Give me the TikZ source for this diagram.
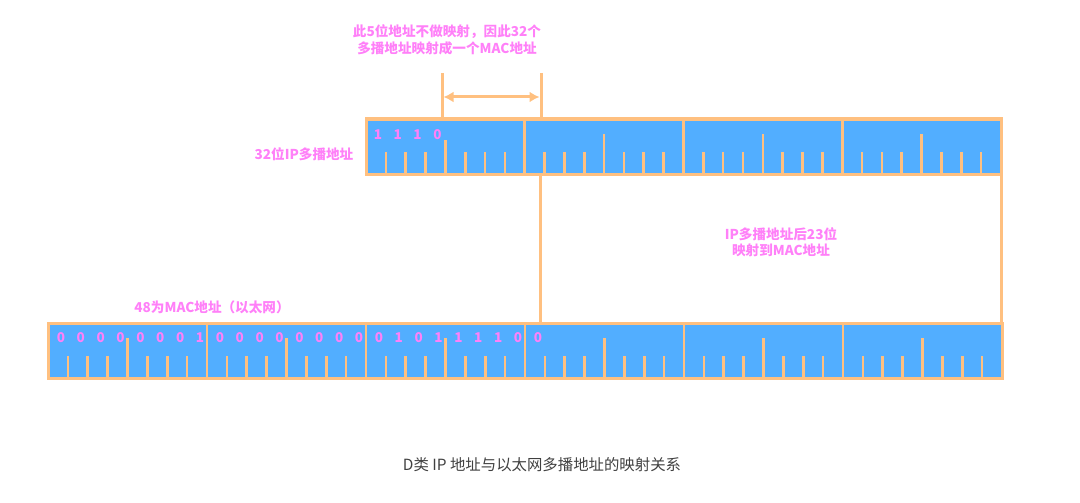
\documentclass[tikz,border=0pt]{standalone}
\usepackage{fontspec}
\setmainfont{Noto Sans CJK SC}
\usetikzlibrary{arrows.meta}
\definecolor{pk}{HTML}{FF80F8}
\definecolor{bl}{HTML}{52AEFF}
\definecolor{og}{HTML}{FFC080}
\definecolor{capc}{HTML}{404040}
\begin{document}
\begin{tikzpicture}[x=1pt,y=-1pt,
  regbox/.style={draw=og,fill=bl,line width=3pt,inner sep=0pt,outer sep=0pt},
  tickline/.style={draw=og,line width=2.6pt},
  divline/.style={draw=og,line width=2.6pt},
  conn/.style={draw=og,line width=3pt},
  lbl/.style={text=pk,font=\bfseries\fontsize{13.6}{16.5}\selectfont,align=center,inner sep=0pt},
  bit/.style={text=pk,font=\bfseries\fontsize{13.5}{13.5}\selectfont,inner sep=0pt},
  captxt/.style={text=capc,font=\fontsize{15.4}{17}\selectfont,inner sep=0pt}]
\useasboundingbox (0,0) rectangle (1080,503);

% boxes
\node[regbox,minimum width=635pt,minimum height=55pt] (ipbox) at (683.5,146.5) {};
\node[regbox,minimum width=954pt,minimum height=55pt] (macbox) at (525,350.5) {};

% top box dividers and ticks
\foreach \k in {1,2,3} {
  \draw[divline] ({366+\k*158.75},119) -- ({366+\k*158.75},174);
}
\foreach \k in {0,...,3} {
  \foreach \i in {1,...,7} {
    \pgfmathsetmacro\tx{366+\k*158.75+\i*19.84}
    \pgfmathsetmacro\ty{ifthenelse(\i==4,ifthenelse(\k==0,140,134),152)}
    \draw[tickline] (\tx,173) -- (\tx,\ty);
  }
}
% bottom box dividers and ticks
\foreach \k in {1,...,5} {
  \draw[divline] ({48+\k*159},323) -- ({48+\k*159},378);
}
\foreach \k in {0,...,5} {
  \foreach \i in {1,...,7} {
    \pgfmathsetmacro\tx{48+\k*159+\i*19.875}
    \pgfmathsetmacro\ty{ifthenelse(\i==4,338,356)}
    \draw[tickline] (\tx,377) -- (\tx,\ty);
  }
}
% redraw borders on top
\draw[draw=og,line width=3pt] (ipbox.north west) rectangle (ipbox.south east);
\draw[draw=og,line width=3pt] (macbox.north west) rectangle (macbox.south east);

% bits
\foreach \b [count=\i from 0] in {1,1,1,0} {
  \node[bit] (t\i) at ({366+(\i+0.5)*19.84+2},135) {\b};
}
\foreach \b [count=\i from 0] in {0,0,0,0,0,0,0,1,0,0,0,0,0,0,0,0,0,1,0,1,1,1,1,0,0} {
  \node[bit] (m\i) at ({48+(\i+0.5)*19.875+3},338) {\b};
}

% bracket over 5 bits
\coordinate (bL) at (442,73);
\coordinate (bR) at (541,73);
\draw[conn] (bL) -- (bL |- ipbox.north);
\draw[conn] (bR) -- (bR |- ipbox.north);
\coordinate (aL) at (443.5,97);
\coordinate (aR) at (539.5,97);
\draw[conn,{Latex[length=10pt,width=11pt]}-{Latex[length=10pt,width=11pt]}] (aL) -- (aR);

% mapping connectors
\coordinate (c1) at (540,174);
\draw[conn] (ipbox.south -| c1) -- (macbox.north -| c1);
\draw[conn] (ipbox.south east) -- (macbox.north -| ipbox.south east);

% labels
\node[lbl] (l5) at (447,40) {此5位地址不做映射，因此32个\\多播地址映射成一个MAC地址};
\node[lbl] (lip) at (304,154) {32位IP多播地址};
\node[lbl] (l23) at (781,242) {IP多播地址后23位\\映射到MAC地址};
\node[lbl] (lmac) at (212,307) {48为MAC地址（以太网）};
\node[captxt] (cap) at (542,465) {D类 IP 地址与以太网多播地址的映射关系};
\end{tikzpicture}
\end{document}
